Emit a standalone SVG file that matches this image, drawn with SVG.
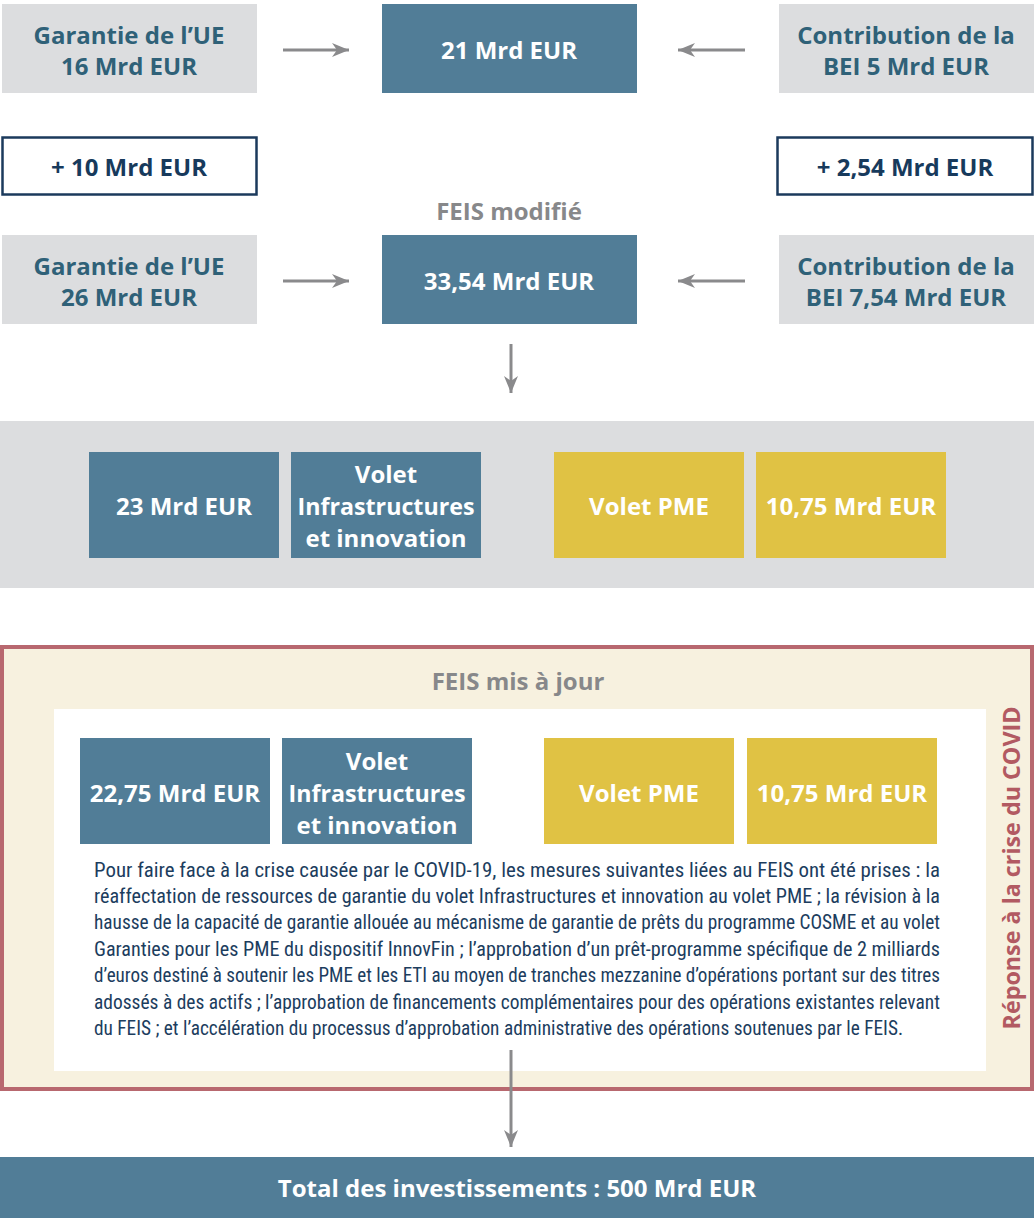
<svg xmlns="http://www.w3.org/2000/svg" width="1034" height="1218" viewBox="0 0 1034 1218">
<defs>
<marker id="ah" markerUnits="userSpaceOnUse" markerWidth="18" markerHeight="14" refX="17" refY="7" orient="auto">
<path d="M0,0 L17,7 L0,14 L5,7 Z" fill="#8a8a8c"/>
</marker>
<style>
.grey{fill:#dcdddf}
.blue{fill:#517d97}
.yellow{fill:#e0c244}
.plus{fill:#ffffff;stroke:#1b3a5c;stroke-width:2.5}
.t{font-family:"Open Sans","Liberation Sans",sans-serif;font-weight:700;text-anchor:middle}
.teal{fill:#2f6178;font-size:24px}
.wt{fill:#ffffff;font-size:24px}
.navy{fill:#173a5c;font-size:24px}
.gt{fill:#87888a;font-size:24px}
.para{font-family:"Liberation Sans Narrow","Roboto Condensed","Liberation Sans",sans-serif;font-size:20px;fill:#1c3d5e}
.conn line{stroke:#8a8a8c;stroke-width:3;marker-end:url(#ah)}
</style>
</defs>
<rect width="1034" height="1218" fill="#ffffff"/>

<g id="eu16"><rect class="grey" x="2" y="4" width="255" height="89"/>
<text class="t teal" x="129" y="44">Garantie de l’UE</text>
<text class="t teal" x="129" y="75">16 Mrd EUR</text></g>
<g id="total21"><rect class="blue" x="382" y="4" width="255" height="89"/>
<text class="t wt" x="509" y="59">21 Mrd EUR</text></g>
<g id="bei5"><rect class="grey" x="779" y="4" width="255" height="89"/>
<text class="t teal" x="906" y="44">Contribution de la</text>
<text class="t teal" x="906" y="75">BEI 5 Mrd EUR</text></g>

<g id="plus10"><rect class="plus" x="2.5" y="137.5" width="254" height="57"/>
<text class="t navy" x="129" y="176">+ 10 Mrd EUR</text></g>
<g id="plus254"><rect class="plus" x="777.5" y="137.5" width="255" height="57"/>
<text class="t navy" x="905" y="176">+ 2,54 Mrd EUR</text></g>

<g id="feis-modifie-label"><text class="t gt" x="509" y="220">FEIS modifié</text></g>

<g id="eu26"><rect class="grey" x="2" y="235" width="255" height="89"/>
<text class="t teal" x="129" y="275">Garantie de l’UE</text>
<text class="t teal" x="129" y="306">26 Mrd EUR</text></g>
<g id="total3354"><rect class="blue" x="382" y="235" width="255" height="89"/>
<text class="t wt" x="509" y="290">33,54 Mrd EUR</text></g>
<g id="bei754"><rect class="grey" x="779" y="235" width="255" height="89"/>
<text class="t teal" x="906" y="275">Contribution de la</text>
<text class="t teal" x="906" y="306">BEI 7,54 Mrd EUR</text></g>

<g id="feis-modifie"><rect class="grey" x="0" y="421" width="1034" height="167"/>
<g id="infra23"><rect class="blue" x="89" y="452" width="190" height="106"/>
<text class="t wt" x="184" y="515">23 Mrd EUR</text></g>
<g id="volet-infra-1"><rect class="blue" x="291" y="452" width="190" height="106"/>
<text class="t wt" x="386" y="483">Volet</text>
<text class="t wt" x="386" y="515" textLength="177" lengthAdjust="spacingAndGlyphs">Infrastructures</text>
<text class="t wt" x="386" y="547">et innovation</text></g>
<g id="volet-pme-1"><rect class="yellow" x="554" y="452" width="190" height="106"/>
<text class="t wt" x="649" y="515">Volet PME</text></g>
<g id="pme1075-1"><rect class="yellow" x="756" y="452" width="190" height="106"/>
<text class="t wt" x="851" y="515">10,75 Mrd EUR</text></g>
</g>

<g id="feis-mis-a-jour">
<rect x="2" y="647" width="1030" height="442" fill="#f7f1df" stroke="#b8686f" stroke-width="4"/>
<text class="t gt" x="518" y="690">FEIS mis à jour</text>
<rect x="54" y="709" width="932" height="362" fill="#ffffff"/>
<g id="infra2275"><rect class="blue" x="80" y="738" width="190" height="106"/>
<text class="t wt" x="175" y="802">22,75 Mrd EUR</text></g>
<g id="volet-infra-2"><rect class="blue" x="282" y="738" width="190" height="106"/>
<text class="t wt" x="377" y="770">Volet</text>
<text class="t wt" x="377" y="802" textLength="177" lengthAdjust="spacingAndGlyphs">Infrastructures</text>
<text class="t wt" x="377" y="834">et innovation</text></g>
<g id="volet-pme-2"><rect class="yellow" x="544" y="738" width="190" height="106"/>
<text class="t wt" x="639" y="802">Volet PME</text></g>
<g id="pme1075-2"><rect class="yellow" x="747" y="738" width="190" height="106"/>
<text class="t wt" x="842" y="802">10,75 Mrd EUR</text></g>
<g id="paragraph">
<text class="para" x="94" y="877" textLength="846" lengthAdjust="spacingAndGlyphs">Pour faire face à la crise causée par le COVID-19, les mesures suivantes liées au FEIS ont été prises : la</text>
<text class="para" x="94" y="903" textLength="846" lengthAdjust="spacingAndGlyphs">réaffectation de ressources de garantie du volet Infrastructures et innovation au volet PME ; la révision à la</text>
<text class="para" x="94" y="929" textLength="846" lengthAdjust="spacingAndGlyphs">hausse de la capacité de garantie allouée au mécanisme de garantie de prêts du programme COSME et au volet</text>
<text class="para" x="94" y="956" textLength="846" lengthAdjust="spacingAndGlyphs">Garanties pour les PME du dispositif InnovFin ; l’approbation d’un prêt-programme spécifique de 2 milliards</text>
<text class="para" x="94" y="982" textLength="846" lengthAdjust="spacingAndGlyphs">d’euros destiné à soutenir les PME et les ETI au moyen de tranches mezzanine d’opérations portant sur des titres</text>
<text class="para" x="94" y="1009" textLength="846" lengthAdjust="spacingAndGlyphs">adossés à des actifs ; l’approbation de financements complémentaires pour des opérations existantes relevant</text>
<text class="para" x="94" y="1035" textLength="809" lengthAdjust="spacingAndGlyphs">du FEIS ; et l’accélération du processus d’approbation administrative des opérations soutenues par le FEIS.</text>
</g>
<text class="t" x="0" y="0" transform="translate(1020,868) rotate(-90)" style="fill:#b25a62;font-size:24px" textLength="323" lengthAdjust="spacingAndGlyphs">Réponse à la crise du COVID</text>
</g>

<g id="total500"><rect class="blue" x="0" y="1157" width="1034" height="61"/>
<text class="t wt" x="517" y="1197">Total des investissements : 500 Mrd EUR</text></g>

<g id="connectors" class="conn">
<line x1="283" y1="50" x2="349" y2="50"/>
<line x1="745" y1="50" x2="678" y2="50"/>
<line x1="283" y1="281" x2="349" y2="281"/>
<line x1="745" y1="281" x2="678" y2="281"/>
<line x1="511" y1="344" x2="511" y2="393"/>
<line x1="511" y1="1050" x2="511" y2="1147"/>
</g>
</svg>
